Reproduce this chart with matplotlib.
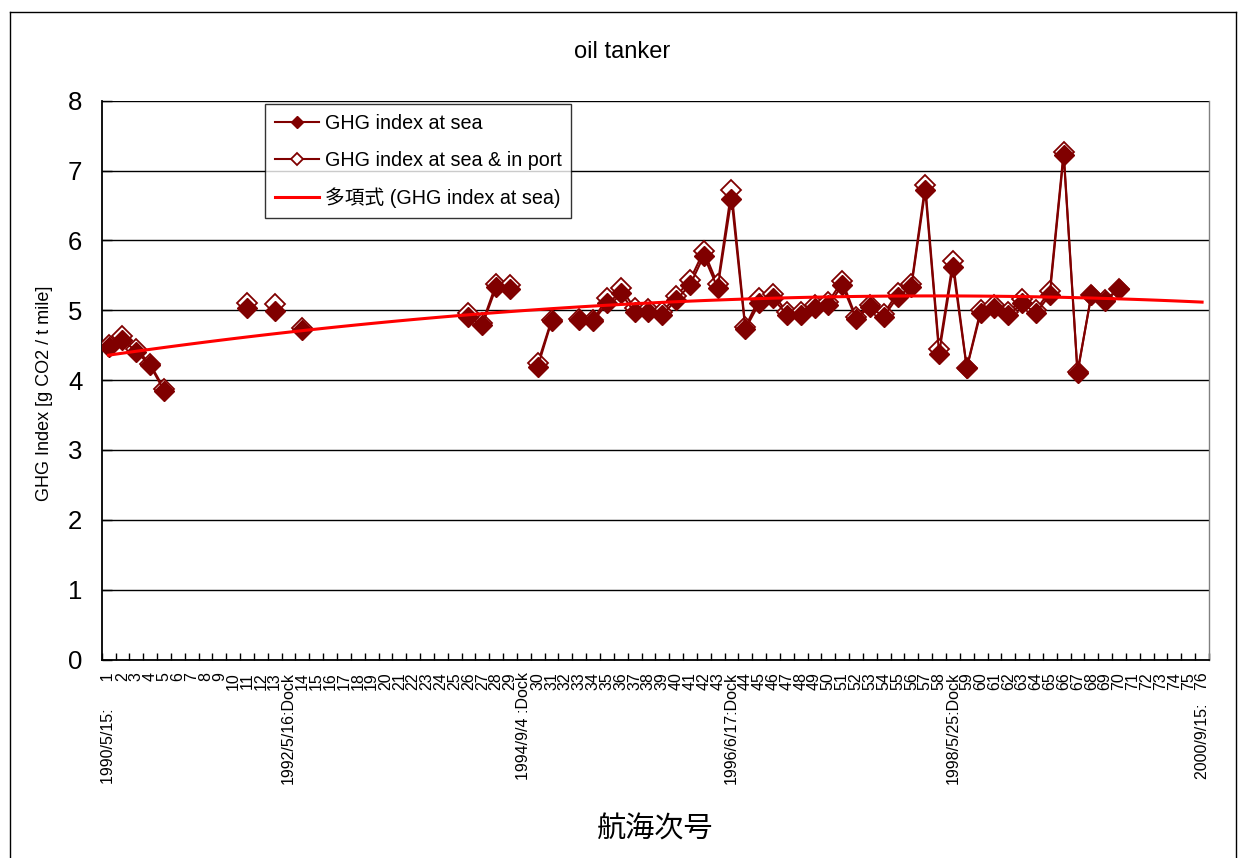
import numpy as np
import matplotlib
matplotlib.use("Agg")
import matplotlib.pyplot as plt
from matplotlib.lines import Line2D

plt.rcParams['font.family'] = ['Liberation Sans', 'Noto Sans CJK JP', 'DejaVu Sans']

nan = np.nan
# category labels (80 categories incl. dock entries)
categories = (["1990/5/15:      1"] + [str(i) for i in range(2, 14)] + ["1992/5/16:Dock"]
              + [str(i) for i in range(14, 30)] + ["1994/9/4 :Dock"]
              + [str(i) for i in range(30, 44)] + ["1996/6/17:Dock"]
              + [str(i) for i in range(44, 59)] + ["1998/5/25:Dock"]
              + [str(i) for i in range(59, 76)] + ["2000/9/15:   76"])

ghg_sea = [4.48, 4.58, 4.41, 4.21, 3.85, nan, nan, nan, nan, nan,
           5.03, nan, 4.99, nan, 4.72, nan, nan, nan, nan, nan,
           nan, nan, nan, nan, nan, nan, 4.90, 4.79, 5.33, 5.30,
           nan, 4.19, 4.84, nan, 4.86, 4.84, 5.10, 5.25, 4.97, 4.97,
           4.93, 5.15, 5.36, 5.78, 5.32, 6.60, 4.73, 5.10, 5.17, 4.94,
           4.94, 5.04, 5.07, 5.36, 4.88, 5.05, 4.91, 5.19, 5.34, 6.72,
           4.38, 5.62, 4.17, 4.96, 5.03, 4.93, 5.10, 4.96, 5.22, 7.22,
           4.10, 5.22, 5.14, 5.30, nan, nan, nan, nan, nan, nan]

ghg_sea_port = [4.50, 4.63, 4.45, 4.23, 3.88, nan, nan, nan, nan, nan,
                5.10, nan, 5.09, nan, 4.75, nan, nan, nan, nan, nan,
                nan, nan, nan, nan, nan, nan, 4.96, 4.82, 5.38, 5.36,
                nan, 4.24, 4.86, nan, 4.88, 4.86, 5.17, 5.32, 5.03, 5.02,
                4.98, 5.20, 5.43, 5.85, 5.37, 6.72, 4.76, 5.17, 5.24, 4.97,
                4.97, 5.08, 5.12, 5.42, 4.90, 5.08, 4.95, 5.25, 5.37, 6.79,
                4.44, 5.70, 4.18, 5.00, 5.07, 4.97, 5.16, 5.00, 5.28, 7.27,
                4.12, 5.22, 5.15, 5.31, nan, nan, nan, nan, nan, nan]

yticks = [0, 1, 2, 3, 4, 5, 6, 7, 8]

W, H = 1241, 858
fig = plt.figure(figsize=(W / 100, H / 100), dpi=100)
ax = fig.add_axes([101.7 / W, 1 - 659.5 / H, (1209 - 101.7) / W, (659.5 - 100.8) / H])

x = np.arange(1, len(categories) + 1)
sea = np.array(ghg_sea, dtype=float)
port = np.array(ghg_sea_port, dtype=float)

dark = '#800000'
ax.plot(x, port, color=dark, lw=1.5, marker='D', ms=10.5, mfc='white', mec=dark, mew=1.3,
        zorder=3, label='GHG index at sea & in port')
ax.plot(x, sea, color=dark, lw=1.5, marker='D', ms=10.5, mfc=dark, mec=dark, mew=1.0,
        zorder=4, label='GHG index at sea')

m = ~np.isnan(sea)
coef = np.polyfit(x[m], sea[m], 2)
ax.plot(x, np.polyval(coef, x), color='#FF0000', lw=2.2, zorder=5,
        label='多項式 (GHG index at sea)')

ax.set_xlim(0.5, len(categories) + 0.5)
ax.set_ylim(0, 8)
ax.set_yticks(yticks)
ax.set_yticklabels([str(v) for v in yticks], fontsize=18.5)
ax.tick_params(axis='y', direction='in', length=7, width=1, pad=14)
ax.yaxis.grid(True, color='black', lw=1.0, zorder=0)
ax.set_axisbelow(True)

ax.set_xticks(x)
ax.set_xticklabels(categories, rotation=90, fontsize=11.5, va='top', ha='center')
ax.tick_params(axis='x', which='major', length=0, pad=9)
ax.set_xticks(np.arange(0.5, len(categories) + 1, 1), minor=True)
ax.tick_params(axis='x', which='minor', direction='in', length=5, width=1)

for s in ['left', 'bottom']:
    ax.spines[s].set_color('black')
    ax.spines[s].set_linewidth(1.3)
ax.spines['right'].set_color('#808080')
ax.spines['right'].set_linewidth(1.0)
ax.spines['top'].set_visible(False)

h, l = ax.get_legend_handles_labels()
order = [1, 0, 2]
leg = fig.legend([h[i] for i in order], [l[i] for i in order], loc='upper left',
                 bbox_to_anchor=(265 / W, 1 - 104 / H), bbox_transform=fig.transFigure,
                 fontsize=14.2, frameon=True, fancybox=False, borderaxespad=0,
                 handlelength=2.25, handletextpad=0.28, labelspacing=0.9,
                 borderpad=0.5, markerscale=0.55)
leg.get_frame().set_edgecolor('black')
leg.get_frame().set_linewidth(1.0)

fig.text(622 / W, 1 - 52 / H, 'oil tanker', ha='center', va='center', fontsize=17)
fig.text(45 / W, 1 - 393 / H, 'GHG Index [g CO2 / t mile]', rotation=90,
         ha='center', va='center', fontsize=13)
fig.text(655 / W, 1 - 830 / H, '航海次号', ha='center', va='center', fontsize=21)

# chart area border
for xs, ys in [([10, 10], [12, 870]), ([10, 1236], [12, 12]), ([1236, 1236], [12, 870])]:
    fig.add_artist(Line2D([v / W for v in xs], [1 - v / H for v in ys], color='black',
                          lw=1.0, transform=fig.transFigure))

fig.savefig('out.png', dpi=100)
